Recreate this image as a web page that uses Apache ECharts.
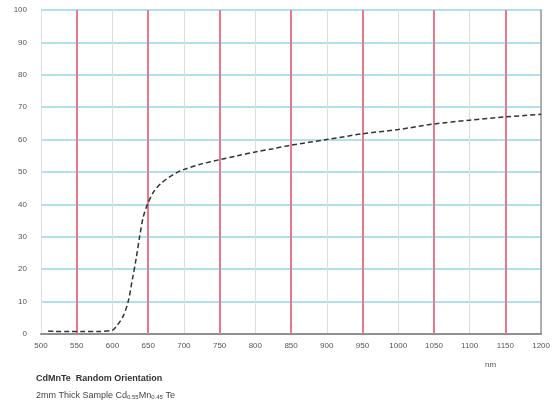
<!DOCTYPE html>
<html><head><meta charset="utf-8">
<script src="https://cdn.jsdelivr.net/npm/echarts@6/dist/echarts.min.js"></script>
<style>html,body{margin:0;padding:0;background:#fff}#c{width:553px;height:411px}</style>
</head><body><div id="c"></div>
<script>
const wavelengths = [510,520,540,560,580,600,607,615,622,628,633,638,643,649,658,668,680,690,700,725,750,775,800,825,850,900,950,1000,1050,1100,1150,1200];
const transmission = [0.9,0.8,0.8,0.8,0.8,1.2,2.8,5.5,10,17,23,30,36,40,44,46.5,48.5,49.8,50.8,52.5,53.8,55,56.2,57.2,58.3,60,61.8,63.1,64.8,66,67,67.8];
const redLines = [550,650,750,850,950,1050,1150];
const xTicks = {min:500, max:1200, step:50};
const yTicks = {min:0, max:100, step:10};
const xUnit = 'nm';
const captionTitle = 'CdMnTe  Random Orientation';
const captionSub = ['2mm Thick Sample Cd','0.55','Mn','0.45',' Te'];

const chart = echarts.init(document.getElementById('c'));
const font = 'Liberation Sans, Arial, sans-serif';
chart.setOption({
  animation:false,
  grid:{left:41,right:8,top:10,bottom:77,containLabel:false},
  xAxis:[{
    type:'value',min:xTicks.min,max:xTicks.max,interval:xTicks.step,
    axisLine:{show:true,onZero:false,lineStyle:{color:'#555',width:1.5}},
    axisTick:{show:false},
    axisLabel:{color:'#555',fontSize:8,fontFamily:font,margin:8,formatter:v=>String(v)},
    splitLine:{show:true,lineStyle:{color:['#ddd','rgba(0,0,0,0)'],width:1}}
  },{
    type:'value',position:'top',min:xTicks.min,max:xTicks.max,interval:xTicks.step,
    axisLine:{show:true,lineStyle:{color:'#999',width:1.5}},
    axisTick:{show:false},axisLabel:{show:false},splitLine:{show:false}
  }],
  yAxis:[{
    type:'value',min:yTicks.min,max:yTicks.max,interval:yTicks.step,
    axisLine:{show:false},
    axisTick:{show:false},
    axisLabel:{color:'#555',fontSize:8,fontFamily:font,margin:14},
    splitLine:{show:true,lineStyle:{color:'#94d6e6',width:1.5}}
  },{
    type:'value',position:'right',min:yTicks.min,max:yTicks.max,interval:yTicks.step,
    axisLine:{show:true,lineStyle:{color:'#999',width:1.5}},
    axisTick:{show:false},axisLabel:{show:false},splitLine:{show:false}
  }],
  series:[{
    type:'line',
    data:wavelengths.map((w,i)=>[w,transmission[i]]),
    smooth:0.3,showSymbol:false,symbol:'none',
    lineStyle:{color:'#333',width:1.5,type:[5,3]},
    z:5,
    markLine:{
      silent:true,symbol:'none',label:{show:false},
      lineStyle:{color:'#e67a8c',width:2,type:'solid'},
      data:redLines.map(v=>({xAxis:v})),
      z:3
    }
  }],
  graphic:[
    {type:'text',left:485,top:361,style:{text:xUnit,fill:'#555',font:'8px '+font}},
    {type:'text',left:36,top:374,style:{text:captionTitle,fill:'#333',font:'bold 9px '+font}},
    {type:'text',left:36,top:391,style:{
      text:'{a|'+captionSub[0]+'}{s|'+captionSub[1]+'}{a|'+captionSub[2]+'}{s|'+captionSub[3]+'}{a|'+captionSub[4]+'}',
      rich:{a:{fontSize:9,fill:'#444',fontFamily:font,lineHeight:12,verticalAlign:'bottom'},
            s:{fontSize:6,fill:'#444',fontFamily:font,lineHeight:8,verticalAlign:'bottom'}}
    }}
  ]
});
</script></body></html>
